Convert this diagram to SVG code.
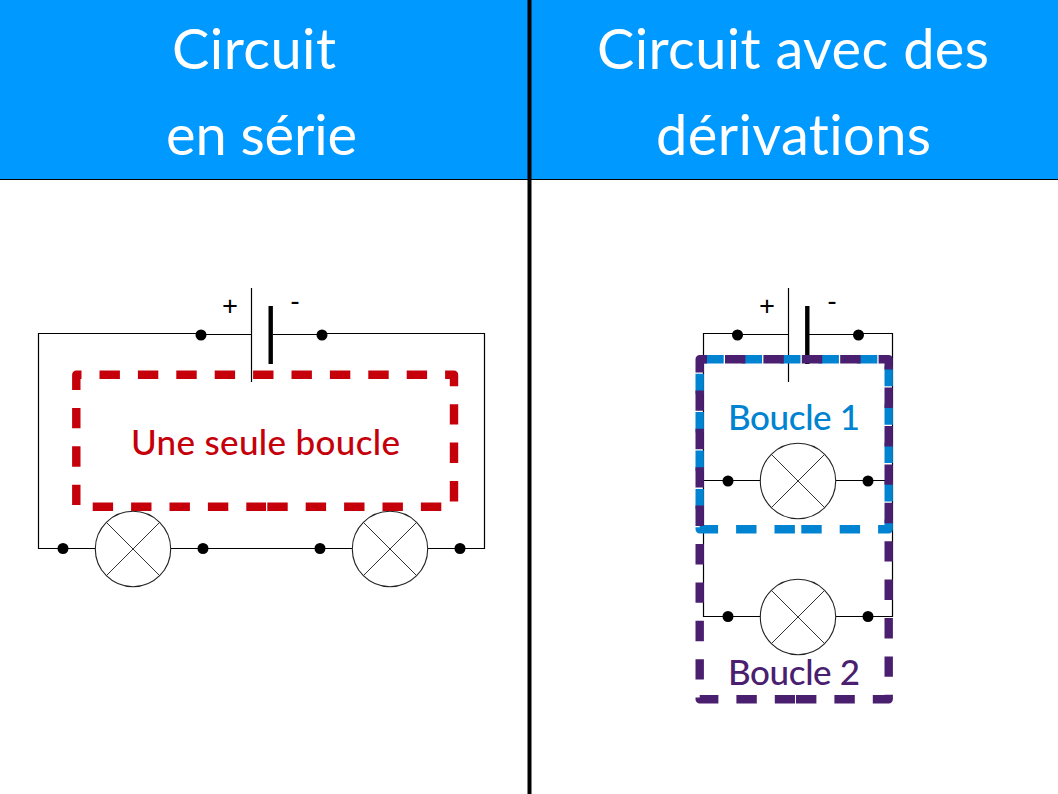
<svg xmlns="http://www.w3.org/2000/svg" width="1058" height="794" viewBox="0 0 1058 794">
<style>
.w{fill:none;stroke:#000;stroke-width:1.2}
.b{fill:none;stroke:#000;stroke-width:1.2}
.p{fill:none;stroke:#000;stroke-width:4.4}
.l{fill:#fff;stroke:#222;stroke-width:1.1}
.x{fill:none;stroke:#333;stroke-width:1}
.d{fill:#000}
.loop{fill:none;stroke-width:8.4;stroke-dasharray:20.4 18;stroke-linejoin:round}
text{font-family:"Lato","Noto Sans","Liberation Sans",sans-serif;text-anchor:middle;font-variant-ligatures:none}
.t{font-size:56px;fill:#fff;font-weight:400}
.s{font-size:35px;font-weight:500}
.g{font-size:28px;fill:#000;font-family:"Noto Sans",sans-serif}
</style>
<rect id="header-left" x="0" y="0" width="528" height="179" fill="#0099ff"/>
<rect id="header-right" x="530" y="0" width="528" height="179" fill="#0099ff"/>
<path d="M0 179.500H1058" stroke="#000" stroke-width="1"/>
<rect id="divider" x="527.500" y="0" width="4" height="794" fill="#000"/>
<text class="t" x="254" y="69" textLength="164">Circuit</text>
<text class="t" x="261.500" y="155" textLength="191">en série</text>
<text class="t" x="793" y="69" textLength="392">Circuit avec des</text>
<text class="t" x="793.500" y="155" textLength="275">dérivations</text>
<g id="connectors">
<path class="w" d="M201 333.500H38.500V548.500H95M171 548.500H352M428 548.500H484.500V333.500H322"/>
<path class="w" d="M201 334.500H251.500M273 334.500H322"/>
<path class="w" d="M737.500 333.500H703.500V616.500H760M836 616.500H892.500V333.500H858.500"/>
<path class="w" d="M737.500 334.500H788.500M809 334.500H858.500"/>
<path class="w" d="M703.500 480.500H760M836 480.500H892.500"/>
</g>
<g id="battery-1">
<path class="b" d="M251.500 288V382"/><path class="p" d="M270.700 306V364"/>
<circle class="d" cx="201" cy="335" r="5.500"/><circle class="d" cx="322" cy="335" r="5.500"/>
<text class="g" x="230" y="316">+</text><text class="g" x="295" y="310">-</text>
</g>
<g id="lamp-1"><circle class="l" cx="133" cy="549" r="37.700"/><path class="x" d="M106.500 522.500L159.500 575.500M159.500 522.500L106.500 575.500"/></g>
<g id="lamp-2"><circle class="l" cx="390" cy="549" r="37.700"/><path class="x" d="M363.500 522.500L416.500 575.500M416.500 522.500L363.500 575.500"/></g>
<g id="dots-1"><circle class="d" cx="63" cy="548.500" r="5.500"/><circle class="d" cx="203" cy="548.500" r="5.500"/><circle class="d" cx="320" cy="548.500" r="5.500"/><circle class="d" cx="460" cy="548.500" r="5.500"/></g>
<g id="loop-red">
<path class="loop" stroke="#c5000b" d="M267.300 506.700H454V374.700H76.300V506.700H266"/>
<text class="s" x="265.500" y="455" textLength="269" fill="#c5000b">Une seule boucle</text>
</g>
<g id="battery-2">
<path class="b" d="M788.500 288V382"/><path class="p" d="M807.300 306V364"/>
<circle class="d" cx="737.500" cy="335" r="5.500"/><circle class="d" cx="858.500" cy="335" r="5.500"/>
<text class="g" x="767" y="316">+</text><text class="g" x="832" y="310">-</text>
</g>
<g id="lamp-3"><circle class="l" cx="798" cy="481" r="37.700"/><path class="x" d="M771.500 454.500L824.500 507.500M824.500 454.500L771.500 507.500"/></g>
<g id="lamp-4"><circle class="l" cx="798" cy="617" r="37.700"/><path class="x" d="M771.500 590.500L824.500 643.500M824.500 590.500L771.500 643.500"/></g>
<g id="dots-2"><circle class="d" cx="728" cy="481" r="5.500"/><circle class="d" cx="868" cy="481" r="5.500"/><circle class="d" cx="728" cy="616.500" r="5.500"/><circle class="d" cx="868" cy="616.500" r="5.500"/></g>
<g id="loop-blue">
<path class="loop" stroke="#0084d1" d="M801.300 529.300H888.700V359.300H699.700V529.300H795"/>
<text class="s" x="794" y="430" textLength="132" fill="#0084d1">Boucle 1</text>
</g>
<g id="loop-purple">
<path class="loop" stroke="#4b1f6f" d="M796 699.300H888.700V359.300H699.700V699.300H795"/>
<text class="s" x="794" y="684.500" textLength="132" fill="#4b1f6f">Boucle 2</text>
</g>
</svg>
